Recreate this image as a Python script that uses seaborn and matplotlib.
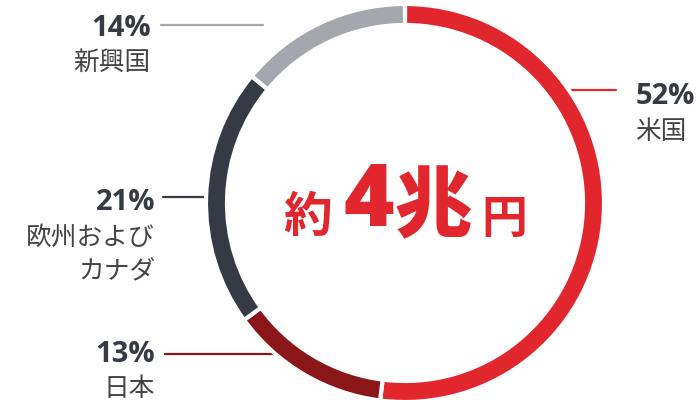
import matplotlib
matplotlib.use("Agg")
import matplotlib.pyplot as plt
import seaborn as sns

# data
regions = ["米国", "日本", "欧州および\nカナダ", "新興国"]
shares = [52, 13, 21, 14]
pct_labels = ["52%", "13%", "21%", "14%"]
colors = ["#e2262d", "#8b1619", "#363a45", "#a4a7ae"]
center_parts = ["約", "4", "兆", "円"]

sns.set_theme(style="white")
plt.rcParams['font.family'] = ['Noto Sans CJK JP', 'DejaVu Sans']

W, H = 700, 400
fig = plt.figure(figsize=(7, 4), dpi=100)
ax = fig.add_axes([0, 0, 1, 1])

def Y(p):
    return H - p

cx, cy = 405, 203
R = 199
ring = 21
ax.pie(shares, colors=colors, startangle=90, counterclock=False,
       center=(cx, Y(cy)), radius=R,
       wedgeprops=dict(width=ring, edgecolor="white", linewidth=3),
       frame=True)
ax.set_xlim(0, W)
ax.set_ylim(0, H)
ax.set_aspect("equal")
ax.axis("off")

text_col = "#363a45"
label_col = "#444444"
pct_font = ["Open Sans", "DejaVu Sans"]
pct_size = 21
lab_size = 18.5

# leader lines (drawn below ring)
lines = [
    ((560, 616), 90, colors[0]),
    ((165, 285), 354, colors[1]),
    ((163, 212), 197, colors[2]),
    ((161, 263), 25, colors[3]),
]
for (x0, x1), yy, c in lines:
    ax.plot([x0, x1], [Y(yy), Y(yy)], color=c, lw=1.6, zorder=0)

# 52% right side
ax.text(636, Y(97), pct_labels[0], ha="left", va="center", fontsize=pct_size,
        fontweight="bold", color=text_col, family=pct_font)
ax.text(635, Y(132), regions[0], ha="left", va="center", fontsize=lab_size,
        color=label_col)
# 13%
ax.text(155, Y(355), pct_labels[1], ha="right", va="center", fontsize=pct_size,
        fontweight="bold", color=text_col, family=pct_font)
ax.text(155, Y(389), regions[1], ha="right", va="center", fontsize=lab_size,
        color=label_col)
# 21%
ax.text(155, Y(203), pct_labels[2], ha="right", va="center", fontsize=pct_size,
        fontweight="bold", color=text_col, family=pct_font)
ax.text(155, Y(255), regions[2], ha="right", va="center", fontsize=lab_size,
        color=label_col, linespacing=1.45, multialignment="right")
# 14%
ax.text(151, Y(29), pct_labels[3], ha="right", va="center", fontsize=pct_size,
        fontweight="bold", color=text_col, family=pct_font)
ax.text(151, Y(63), regions[3], ha="right", va="center", fontsize=lab_size,
        color=label_col)

# center text
red = colors[0]
ax.text(308, Y(218), center_parts[0], ha="center", va="center", fontsize=35,
        fontweight="bold", color=red)
ax.text(369, Y(204), center_parts[1], ha="center", va="center", fontsize=62,
        fontweight="heavy", color=red, family=pct_font)
ax.text(433, Y(208), center_parts[2], ha="center", va="center", fontsize=56,
        fontweight="heavy", color=red)
ax.text(504, Y(220), center_parts[3], ha="center", va="center", fontsize=33,
        fontweight="bold", color=red)

fig.savefig("out.png", dpi=100, facecolor="white")
